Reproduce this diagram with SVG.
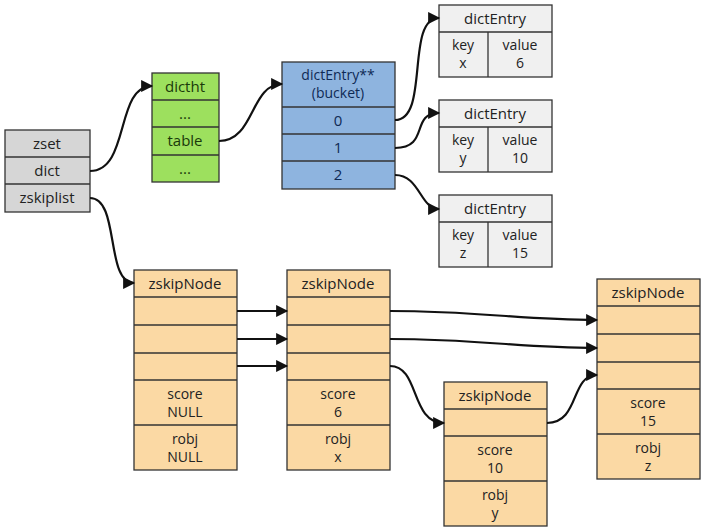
<svg xmlns="http://www.w3.org/2000/svg" width="720" height="531" viewBox="0 0 720 531">
<style>
rect{stroke:#333;stroke-width:1.3}
line{stroke:#333;stroke-width:1.3}
.g{fill:#d6d6d6}.gr{fill:#9de05e}.b{fill:#8eb4df}.w{fill:#f0f0f0}.o{fill:#fbd9a4}
text{font-family:"Open Sans","DejaVu Sans",sans-serif;font-size:15px;fill:#222;text-anchor:middle}
.s{font-size:14px}
.bt{fill:#0e2a55}.gt{fill:#1a3a0a}
.c{fill:none;stroke:#111;stroke-width:2.2;marker-end:url(#a)}
</style>
<defs><marker id="a" viewBox="0 0 10 10" refX="9" refY="5" markerWidth="7" markerHeight="5.5" orient="auto" markerUnits="strokeWidth"><path d="M0,0L10,5L0,10z" fill="#111"/></marker></defs>
<rect width="720" height="531" fill="#fff" style="stroke:none"/>
<g id="zset"><rect class="g" x="5" y="130" width="85" height="82"/><line x1="5" y1="157" x2="90" y2="157"/><line x1="5" y1="184" x2="90" y2="184"/>
<text x="47" y="149">zset</text><text x="47" y="176">dict</text><text x="47" y="203">zskiplist</text></g>
<g id="dictht"><rect class="gr" x="152" y="73" width="67" height="109"/><line x1="152" y1="100" x2="219" y2="100"/><line x1="152" y1="127" x2="219" y2="127"/><line x1="152" y1="155" x2="219" y2="155"/>
<text class="gt" x="185" y="92">dictht</text><text class="gt" x="185" y="119">...</text><text class="gt" x="185" y="146">table</text><text class="gt" x="185" y="174">...</text></g>
<g id="bucket"><rect class="b" x="282" y="62" width="113" height="127"/><line x1="282" y1="107" x2="395" y2="107"/><line x1="282" y1="134" x2="395" y2="134"/><line x1="282" y1="161" x2="395" y2="161"/>
<text class="bt s" x="338" y="80">dictEntry**</text><text class="bt s" x="338" y="98">(bucket)</text><text class="bt" x="338" y="126">0</text><text class="bt" x="338" y="153">1</text><text class="bt" x="338" y="180">2</text></g>
<g id="entry-x"><rect class="w" x="439" y="5" width="113" height="72"/><line x1="439" y1="32" x2="552" y2="32"/><line x1="488" y1="32" x2="488" y2="77"/>
<text x="495" y="24">dictEntry</text><text class="s" x="463" y="50">key</text><text class="s" x="463" y="68">x</text><text class="s" x="520" y="50">value</text><text class="s" x="520" y="68">6</text></g>
<g id="entry-y"><rect class="w" x="439" y="100" width="113" height="72"/><line x1="439" y1="127" x2="552" y2="127"/><line x1="488" y1="127" x2="488" y2="172"/>
<text x="495" y="119">dictEntry</text><text class="s" x="463" y="145">key</text><text class="s" x="463" y="163">y</text><text class="s" x="520" y="145">value</text><text class="s" x="520" y="163">10</text></g>
<g id="entry-z"><rect class="w" x="439" y="195" width="113" height="72"/><line x1="439" y1="222" x2="552" y2="222"/><line x1="488" y1="222" x2="488" y2="267"/>
<text x="495" y="214">dictEntry</text><text class="s" x="463" y="240">key</text><text class="s" x="463" y="258">z</text><text class="s" x="520" y="240">value</text><text class="s" x="520" y="258">15</text></g>
<g id="node1"><rect class="o" x="134" y="270" width="103" height="200"/><line x1="134" y1="297" x2="237" y2="297"/><line x1="134" y1="325" x2="237" y2="325"/><line x1="134" y1="353" x2="237" y2="353"/><line x1="134" y1="380" x2="237" y2="380"/><line x1="134" y1="425" x2="237" y2="425"/>
<text x="185" y="289">zskipNode</text><text class="s" x="185" y="399">score</text><text class="s" x="185" y="417">NULL</text><text class="s" x="185" y="444">robj</text><text class="s" x="185" y="462">NULL</text></g>
<g id="node2"><rect class="o" x="287" y="270" width="103" height="200"/><line x1="287" y1="297" x2="390" y2="297"/><line x1="287" y1="325" x2="390" y2="325"/><line x1="287" y1="353" x2="390" y2="353"/><line x1="287" y1="380" x2="390" y2="380"/><line x1="287" y1="425" x2="390" y2="425"/>
<text x="338" y="289">zskipNode</text><text class="s" x="338" y="399">score</text><text class="s" x="338" y="417">6</text><text class="s" x="338" y="444">robj</text><text class="s" x="338" y="462">x</text></g>
<g id="node3"><rect class="o" x="444" y="382" width="103" height="144"/><line x1="444" y1="409" x2="547" y2="409"/><line x1="444" y1="436" x2="547" y2="436"/><line x1="444" y1="481" x2="547" y2="481"/>
<text x="495" y="401">zskipNode</text><text class="s" x="495" y="455">score</text><text class="s" x="495" y="473">10</text><text class="s" x="495" y="500">robj</text><text class="s" x="495" y="518">y</text></g>
<g id="node4"><rect class="o" x="597" y="279" width="103" height="200"/><line x1="597" y1="306" x2="700" y2="306"/><line x1="597" y1="334" x2="700" y2="334"/><line x1="597" y1="362" x2="700" y2="362"/><line x1="597" y1="389" x2="700" y2="389"/><line x1="597" y1="434" x2="700" y2="434"/>
<text x="648" y="298">zskipNode</text><text class="s" x="648" y="408">score</text><text class="s" x="648" y="426">15</text><text class="s" x="648" y="453">robj</text><text class="s" x="648" y="471">z</text></g>
<g id="connectors">
<path class="c" d="M90,171C130,171 115,86 152,86"/>
<path class="c" d="M219,141C255,141 250,84 282,84"/>
<path class="c" d="M395,120C430,120 405,18 439,18"/>
<path class="c" d="M395,148C430,148 410,113 439,113"/>
<path class="c" d="M395,175C420,175 420,209 439,209"/>
<path class="c" d="M90,198C120,198 105,283 134,283"/>
<path class="c" d="M237,311L287,311"/>
<path class="c" d="M237,339L287,339"/>
<path class="c" d="M237,366L287,366"/>
<path class="c" d="M390,311C480,311 520,320 597,320"/>
<path class="c" d="M390,339C480,339 520,348 597,348"/>
<path class="c" d="M390,366C420,366 410,423 444,423"/>
<path class="c" d="M547,423C580,423 570,375 597,375"/>
</g>
</svg>
